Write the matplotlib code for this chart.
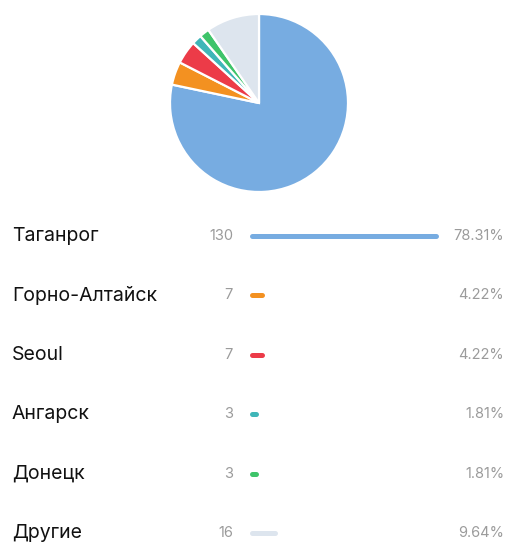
import matplotlib.pyplot as plt
from matplotlib.transforms import blended_transform_factory

plt.rcParams['font.family'] = ['Inter', 'DejaVu Sans']

# city stats
cities = ['Таганрог', 'Горно-Алтайск', 'Seoul', 'Ангарск', 'Донецк', 'Другие']
counts = [130, 7, 7, 3, 3, 16]
colors = ['#77ace1', '#f39121', '#ec3b48', '#3fb6b8', '#3ec46a', '#dde5ee']

W, H = 507, 542
fig = plt.figure(figsize=(W / 100, H / 100), dpi=100)

# pie on top
cx, cy, r = 259, 103, 89
ax_pie = fig.add_axes([(cx - r) / W, (H - cy - r) / H, 2 * r / W, 2 * r / H])
ax_pie.pie(counts, colors=colors, startangle=90, counterclock=False,
           wedgeprops={'edgecolor': 'white', 'linewidth': 1.6})
ax_pie.set_xlim(-1, 1)
ax_pie.set_ylim(-1, 1)
ax_pie.set_aspect('auto')

# list with bars below (first row / last row centres in px)
x0, x1 = 252, 436
y_first, y_last = 236, 533
ax = fig.add_axes([x0 / W, (H - y_last) / H, (x1 - x0) / W, (y_last - y_first) / H])
ax.set_xlim(0, max(counts))
ax.set_ylim(len(cities) - 1, 0)
ax.axis('off')

total = sum(counts)
tr = blended_transform_factory(fig.transFigure, ax.transData)
for i, (name, n, c) in enumerate(zip(cities, counts, colors)):
    ax.plot([0, n], [i, i], color=c, lw=3.6, solid_capstyle='round', clip_on=False)
    ax.text(12 / W, i, name, transform=tr, ha='left', va='center',
            fontsize=14, color='#111111')
    ax.text(233 / W, i, str(n), transform=tr, ha='right', va='center',
            fontsize=10.5, color='#9b9b9b')
    ax.text(504 / W, i, f'{n / total * 100:.2f}%', transform=tr, ha='right',
            va='center', fontsize=10.5, color='#9b9b9b')

fig.savefig('out.png', dpi=100, facecolor='white')
